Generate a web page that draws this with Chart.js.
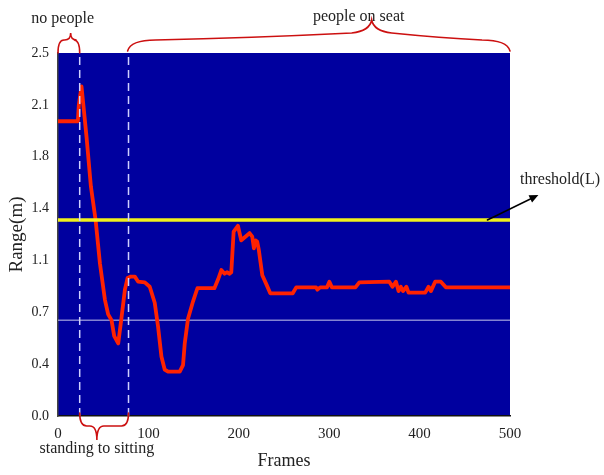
<!DOCTYPE html>
<html><head><meta charset="utf-8">
<script src="https://cdn.jsdelivr.net/npm/chart.js@4/dist/chart.umd.min.js"></script>
<style>html,body{margin:0;padding:0;background:#fff}#wrap{width:604px;height:475px}</style>
</head><body><div id="wrap"><canvas id="c" width="604" height="475"></canvas></div>
<script>
const frames = [0, 22, 23, 26, 31.6, 36.4, 41.6, 46.4, 51.9, 55.5, 59.2, 62.2, 66.6, 70.3, 74, 76.9, 80.6, 85, 88.7, 96, 101.5, 107, 110.7, 114.4, 118, 121.8, 134.7, 138.3, 140.2, 143.8, 149.4, 154.2, 173, 177, 180.7, 184.3, 186.9, 189.9, 191.7, 194.3, 199, 202.7, 208.3, 211.9, 214.9, 216.7, 218.6, 220.4, 222, 226, 230.3, 234.8, 259.7, 263.5, 285.5, 287, 290, 297.6, 300.2, 303, 329, 333.3, 366.5, 370, 373.9, 376.7, 379.2, 381.7, 385.4, 387.8, 406.2, 409.9, 412.5, 417.2, 423.5, 429, 500];
const rangeM = [2.03, 2.03, 2.14, 2.27, 1.92, 1.58, 1.35, 1.05, 0.80, 0.70, 0.66, 0.55, 0.50, 0.68, 0.87, 0.95, 0.96, 0.96, 0.925, 0.92, 0.89, 0.78, 0.615, 0.41, 0.32, 0.305, 0.305, 0.35, 0.50, 0.67, 0.79, 0.88, 0.88, 0.94, 1.005, 0.98, 0.99, 0.98, 0.99, 1.27, 1.31, 1.21, 1.24, 1.26, 1.235, 1.155, 1.21, 1.20, 1.15, 0.97, 0.91, 0.845, 0.845, 0.886, 0.886, 0.87, 0.886, 0.886, 0.925, 0.886, 0.886, 0.92, 0.925, 0.89, 0.925, 0.86, 0.89, 0.86, 0.89, 0.85, 0.85, 0.89, 0.86, 0.925, 0.925, 0.886, 0.886];
const yTickLabels = ["0.0", "0.4", "0.7", "1.1", "1.4", "1.8", "2.1", "2.5"];
const xTickLabels = ["0", "100", "200", "300", "400", "500"];
const yMax = 2.5;
const xMax = 500;
const thresholdL = 1.35;
const lowLine = 0.66;
const phaseBounds = [24, 78];
// brace: [start frame, end frame, tip frame]
const braceNoPeople = [0, 24, 14];
const braceStanding = [24, 78, 43];
const braceSeat = [77, 500, 347];
const arrowFrame = 475;
const txtNoPeople = "no people";
const txtStanding = "standing to sitting";
const txtSeat = "people on seat";
const txtThreshold = "threshold(L)";
const xTitle = "Frames";
const yTitle = "Range(m)";

const SERIF = "'Liberation Serif', 'Times New Roman', serif";
Chart.defaults.font.family = SERIF;
Chart.defaults.color = '#222';

const line = frames.map((f, i) => ({x: f, y: rangeM[i]}));
const vlines = phaseBounds.map(f => ({
  data: [{x: f, y: 0}, {x: f, y: yMax}],
  borderColor: '#cfd0ff', borderWidth: 1.5, borderDash: [8, 5], pointRadius: 0, fill: false
}));

const bgPlugin = {
  id: 'bg',
  beforeDraw(chart) {
    const {ctx, chartArea: a} = chart;
    ctx.save();
    ctx.fillStyle = '#00009f';
    ctx.fillRect(a.left, a.top, a.right - a.left, a.bottom - a.top);
    ctx.restore();
  }
};

function brace(ctx, x1, x2, xt, y0, y1, y2, r) {
  ctx.beginPath();
  ctx.moveTo(x1, y0);
  ctx.quadraticCurveTo(x1, y1, x1 + r, y1);
  ctx.lineTo(xt - r, y1);
  ctx.quadraticCurveTo(xt, y1, xt, y2);
  ctx.quadraticCurveTo(xt, y1, xt + r, y1);
  ctx.lineTo(x2 - r, y1);
  ctx.quadraticCurveTo(x2, y1, x2, y0);
  ctx.stroke();
}

function longBrace(ctx, x1, x2, xt, y0, yA, yB, y2) {
  ctx.beginPath();
  ctx.moveTo(x1, y0);
  ctx.quadraticCurveTo(x1 + 3, yA, x1 + 28, yA);
  ctx.quadraticCurveTo((x1 + xt) / 2, yA - 2, xt - 20, yB);
  ctx.quadraticCurveTo(xt - 2, yB - 2, xt, y2);
  ctx.quadraticCurveTo(xt + 2, yB - 2, xt + 20, yB);
  ctx.quadraticCurveTo((x2 + xt) / 2, yA - 2, x2 - 28, yA);
  ctx.quadraticCurveTo(x2 - 3, yA, x2, y0);
  ctx.stroke();
}

const annoPlugin = {
  id: 'anno',
  afterDraw(chart) {
    const {ctx, chartArea: a, scales: {x, y}} = chart;
    ctx.save();
    ctx.strokeStyle = '#cc1010';
    ctx.lineWidth = 1.6;
    ctx.lineCap = 'round';
    // no people
    let p = braceNoPeople.map(v => x.getPixelForValue(v));
    brace(ctx, p[0], p[1], p[2], a.top, a.top - 13, a.top - 20, 6);
    ctx.fillStyle = '#222';
    ctx.font = '16px ' + SERIF;
    ctx.textAlign = 'center';
    ctx.textBaseline = 'alphabetic';
    ctx.fillText(txtNoPeople, p[2] - 8, a.top - 30);
    // people on seat
    p = braceSeat.map(v => x.getPixelForValue(v));
    longBrace(ctx, p[0], p[1], p[2], a.top - 2, a.top - 13, a.top - 20, a.top - 33);
    ctx.fillText(txtSeat, p[2] - 13, a.top - 32);
    // standing to sitting
    p = braceStanding.map(v => x.getPixelForValue(v));
    brace(ctx, p[0], p[1], p[2], a.bottom - 3, a.bottom + 10, a.bottom + 24, 7);
    ctx.fillText(txtStanding, p[2], a.bottom + 37);
    // threshold arrow
    const ax = x.getPixelForValue(arrowFrame), ay = y.getPixelForValue(thresholdL);
    const ex = ax + 51, ey = ay - 25;
    ctx.strokeStyle = '#000';
    ctx.fillStyle = '#000';
    ctx.lineWidth = 1.5;
    ctx.beginPath();
    ctx.moveTo(ax, ay);
    ctx.lineTo(ex - 6, ey + 3);
    ctx.stroke();
    const ang = Math.atan2(ey - ay, ex - ax);
    ctx.beginPath();
    ctx.moveTo(ex, ey);
    ctx.lineTo(ex - 9 * Math.cos(ang) + 4 * Math.sin(ang), ey - 9 * Math.sin(ang) - 4 * Math.cos(ang));
    ctx.lineTo(ex - 9 * Math.cos(ang) - 4 * Math.sin(ang), ey - 9 * Math.sin(ang) + 4 * Math.cos(ang));
    ctx.closePath();
    ctx.fill();
    ctx.fillStyle = '#222';
    ctx.textAlign = 'left';
    ctx.fillText(txtThreshold, a.right + 10, ay - 36);
    ctx.restore();
  }
};

new Chart(document.getElementById('c'), {
  type: 'line',
  data: {
    datasets: [
      ...vlines,
      {data: [{x: 0, y: thresholdL}, {x: xMax, y: thresholdL}], borderColor: '#f0f01c', borderWidth: 3.5, pointRadius: 0},
      {data: line, borderColor: '#ff2200', borderWidth: 3.8, pointRadius: 0, tension: 0, borderJoinStyle: 'round', borderCapStyle: 'round'},
      {data: [{x: 0, y: lowLine}, {x: xMax, y: lowLine}], borderColor: '#c8c8ee', borderWidth: 1, pointRadius: 0}
    ]
  },
  options: {
    responsive: false,
    devicePixelRatio: 1,
    animation: false,
    layout: {padding: {left: 0, right: 94, top: 53, bottom: 0}},
    plugins: {legend: {display: false}, tooltip: {enabled: false}},
    scales: {
      x: {
        type: 'linear', min: 0, max: xMax,
        grid: {display: false, drawTicks: false},
        border: {display: true, color: '#111', width: 1.5},
        afterBuildTicks: s => { s.ticks = xTickLabels.map(t => ({value: Number(t)})); },
        ticks: {padding: 9, font: {size: 15}, color: '#222', callback: (v, i) => xTickLabels[i], maxRotation: 0, autoSkip: false},
        afterFit: s => { s.height = 59; },
        title: {display: true, text: xTitle, font: {size: 18}, color: '#222', padding: {top: 0, bottom: 3}}
      },
      y: {
        type: 'linear', min: 0, max: yMax,
        grid: {display: false, drawTicks: false},
        border: {display: true, color: '#444', width: 1.5},
        afterBuildTicks: s => { s.ticks = yTickLabels.map((t, i) => ({value: i * yMax / (yTickLabels.length - 1)})); },
        ticks: {padding: 9, font: {size: 14}, color: '#222', callback: (v, i) => yTickLabels[i], autoSkip: false},
        afterFit: s => { s.width = 58; },
        title: {display: true, text: yTitle, font: {size: 19}, color: '#222', padding: {top: 6, bottom: 0}}
      }
    }
  },
  plugins: [bgPlugin, annoPlugin]
});
</script></body></html>
